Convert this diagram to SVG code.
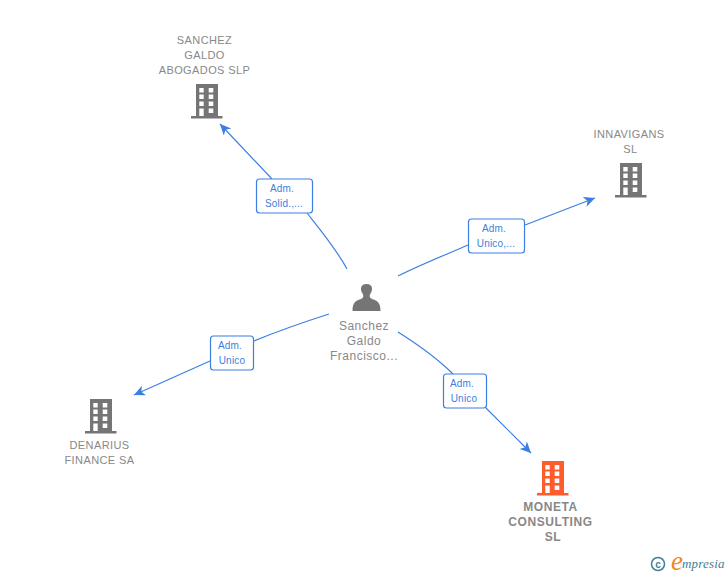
<svg xmlns="http://www.w3.org/2000/svg" width="728" height="575" viewBox="0 0 728 575">
<style>
text{font-family:"Liberation Sans",Arial,sans-serif}
.n{font-size:11px;fill:#888;text-anchor:middle;letter-spacing:.4px}
.p{font-size:12px;letter-spacing:.5px}
.b{font-weight:bold;font-size:12px;letter-spacing:.6px}
.l{font-size:10px;fill:#3c7fe0;text-anchor:middle;letter-spacing:.2px}
.c{fill:none;stroke:#3b7fe2;stroke-width:1.2}
.box{fill:#fff;stroke:#3b7fe2;stroke-width:1.2}
</style>
<defs>
<marker id="a" markerUnits="userSpaceOnUse" markerWidth="12" markerHeight="12" refX="11" refY="6" orient="auto"><path d="M0 0.8L11 6L0 11.2L3 6Z" fill="#3b7fe2"/></marker>
<symbol id="bld" width="32" height="35" viewBox="0 0 32 35" overflow="visible">
<path fill-rule="evenodd" d="M5 0H27V32H31.500V34.500H0V32H5ZM8.300 4V8.500H12.700V4ZM17.700 4V8.500H22.300V4ZM8.300 10.500V15H12.700V10.500ZM17.700 10.500V15H22.300V10.500ZM8.300 17.500V22H12.700V17.500ZM17.700 17.500V22H22.300V17.500ZM8.300 24.500V32H12.700V24.500ZM17.700 24.500V29H22.300V24.500Z"/>
</symbol>
</defs>
<rect width="728" height="575" fill="#fff"/>
<g id="connectors">
<path class="c" d="M347 269C337 250 322 232 307 213"/>
<path class="c" marker-end="url(#a)" d="M272 179L220 124"/>
<path class="c" d="M398 276C420 265 445 255 468 245"/>
<path class="c" marker-end="url(#a)" d="M525 225L595 198"/>
<path class="c" d="M329 314C304 322 278 331 254 341"/>
<path class="c" marker-end="url(#a)" d="M210 361L134 395"/>
<path class="c" d="M398 332C417 344 437 358 453 374"/>
<path class="c" marker-end="url(#a)" d="M486 408L531 453"/>
</g>
<g id="edge-label-1"><rect class="box" x="256.500" y="179" width="56" height="34" rx="3"/><text class="l" x="282" y="192">Adm.</text><text class="l" x="284" y="207">Solid.,...</text></g>
<g id="edge-label-2"><rect class="box" x="468.500" y="219" width="56" height="34" rx="3"/><text class="l" x="494" y="232">Adm.</text><text class="l" x="496" y="247">Unico,...</text></g>
<g id="edge-label-3"><rect class="box" x="210.500" y="336" width="43" height="34" rx="3"/><text class="l" x="230" y="349">Adm.</text><text class="l" x="232" y="364">Unico</text></g>
<g id="edge-label-4"><rect class="box" x="443.500" y="374" width="43" height="34" rx="3"/><text class="l" x="462" y="387">Adm.</text><text class="l" x="464" y="402">Unico</text></g>
<g id="node-sanchez-galdo-abogados">
<text class="n" x="204.500" y="44">SANCHEZ</text><text class="n" x="204.500" y="59">GALDO</text><text class="n" x="204.500" y="74">ABOGADOS SLP</text>
<use href="#bld" x="191" y="84" fill="#757575"/>
</g>
<g id="node-innavigans">
<text class="n" x="629" y="138">INNAVIGANS</text><text class="n" x="630.500" y="153">SL</text>
<use href="#bld" x="615" y="163" fill="#757575"/>
</g>
<g id="node-denarius">
<use href="#bld" x="85" y="399" fill="#757575"/>
<text class="n" x="99.500" y="449">DENARIUS</text><text class="n" x="99.500" y="464">FINANCE SA</text>
</g>
<g id="node-moneta">
<use href="#bld" x="537" y="461" fill="#ff5c2e"/>
<text class="n b" x="550.500" y="511">MONETA</text><text class="n b" x="550.500" y="526">CONSULTING</text><text class="n b" x="553" y="541">SL</text>
</g>
<g id="node-person">
<path fill="#757575" d="M352.500 311C352.500 303 355 301 361 299C363.500 298 364 296 362.500 293.500C360 290 360 284 366.500 284C373 284 373 290 370.500 293.500C369 296 369.500 298 372 299C378 301 380.500 303 380.500 311Z"/>
<text class="n p" x="364" y="330">Sanchez</text><text class="n p" x="364" y="345">Galdo</text><text class="n p" x="364" y="360">Francisco...</text>
</g>
<g id="logo">
<circle cx="658" cy="564" r="6.500" fill="none" stroke="#3f7f96" stroke-width="1.500"/>
<text x="658" y="567.500" font-size="10" font-weight="bold" fill="#3f7f96" text-anchor="middle">c</text>
<text x="671" y="570" style="font-family:'Liberation Serif',serif" font-size="27" font-style="italic" fill="#f08a1d">e</text>
<text x="682" y="568" style="font-family:'Liberation Serif',serif" font-size="13" font-style="italic" fill="#3f7f96" letter-spacing=".2">mpresia</text>
</g>
</svg>
